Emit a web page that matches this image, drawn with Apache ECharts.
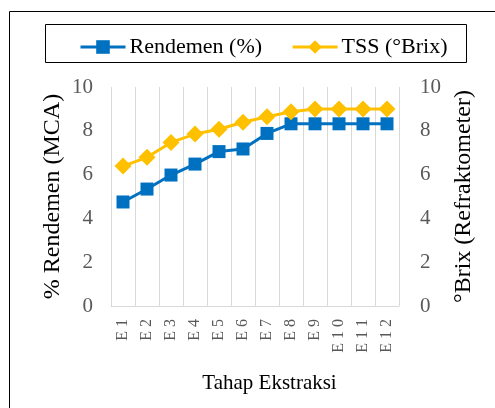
<!DOCTYPE html>
<html><head><meta charset="utf-8">
<script src="https://cdn.jsdelivr.net/npm/echarts@6/dist/echarts.min.js"></script>
<style>html,body{margin:0;padding:0;background:#fff}#c{width:495px;height:408px}</style>
</head><body><div id="c"></div>
<script>
const categories = ["E1","E2","E3","E4","E5","E6","E7","E8","E9","E10","E11","E12"];
const rendemen = [4.75, 5.34, 5.98, 6.48, 7.05, 7.17, 7.88, 8.32, 8.32, 8.32, 8.32, 8.32];
const tss = [6.39, 6.79, 7.47, 7.85, 8.07, 8.39, 8.64, 8.87, 9.0, 9.0, 9.0, 9.0];
const yTicks = [0, 2, 4, 6, 8, 10];

const font = "Liberation Serif";
const chart = echarts.init(document.getElementById('c'), null, {renderer: 'canvas'});
chart.setOption({
  animation: false,
  backgroundColor: '#fff',
  textStyle: {fontFamily: font},
  graphic: [
    {type: 'rect', shape: {x: 9.5, y: 11.5, width: 600, height: 600}, style: {fill: 'none', stroke: '#000', lineWidth: 1}, silent: true},
    {type: 'rect', shape: {x: 45.5, y: 24.5, width: 421, height: 38}, style: {fill: 'none', stroke: '#000', lineWidth: 1}, silent: true},
    {type: 'text', x: 269.5, y: 383, style: {text: 'Tahap Ekstraksi', fill: '#000', font: '21px Liberation Serif', align: 'center', verticalAlign: 'middle'}, silent: true}
  ],
  legend: {
    left: 74, top: 31,
    itemWidth: 45, itemHeight: 17, itemGap: 29,
    lineStyle: {width: 3},
    textStyle: {fontFamily: font, fontSize: 22, color: '#000', padding: [0,0,0,-1]},
    data: ['Rendemen (%)', 'TSS (°Brix)']
  },
  grid: {left: 111, right: 96, top: 87, bottom: 102},
  xAxis: {
    type: 'category', data: categories, boundaryGap: true,
    axisLine: {show: true, lineStyle: {color: '#d9d9d9', width: 1}},
    axisTick: {show: false},
    splitLine: {show: true, interval: 0, lineStyle: {color: '#d9d9d9', width: 1}},
    axisLabel: {rotate: 90, interval: 0, margin: 13, fontFamily: font, fontSize: 16, color: '#595959',
      formatter: v => v.split('').join(' ')}
  },
  yAxis: [
    {type: 'value', min: 0, max: 10, interval: 2, position: 'left',
     axisLine: {show: false}, axisTick: {show: false}, splitLine: {show: false},
     axisLabel: {fontFamily: font, fontSize: 21, color: '#595959', margin: 18,
       formatter: v => yTicks.includes(v) ? String(v) : ''},
     name: '% Rendemen (MCA)', nameLocation: 'middle', nameRotate: 90, nameGap: 46, nameMoveOverlap: false,
     nameTextStyle: {fontFamily: font, fontSize: 24, color: '#000'}},
    {type: 'value', min: 0, max: 10, interval: 2, position: 'right',
     axisLine: {show: false}, axisTick: {show: false}, splitLine: {show: false},
     axisLabel: {fontFamily: font, fontSize: 21, color: '#595959', margin: 21,
       formatter: v => yTicks.includes(v) ? String(v) : ''},
     name: '°Brix (Refraktometer)', nameLocation: 'middle', nameRotate: 90, nameGap: 53, nameMoveOverlap: false,
     nameTextStyle: {fontFamily: font, fontSize: 24, color: '#000'}}
  ],
  series: [
    {name: 'Rendemen (%)', type: 'line', data: rendemen, yAxisIndex: 0,
     symbol: 'rect', symbolSize: 13, color: '#0070C0',
     lineStyle: {width: 3, color: '#0070C0'}, itemStyle: {color: '#0070C0'}},
    {name: 'TSS (°Brix)', type: 'line', data: tss, yAxisIndex: 1,
     symbol: 'diamond', symbolSize: 17, color: '#FFC000',
     lineStyle: {width: 3, color: '#FFC000'}, itemStyle: {color: '#FFC000'}}
  ]
});
</script></body></html>
